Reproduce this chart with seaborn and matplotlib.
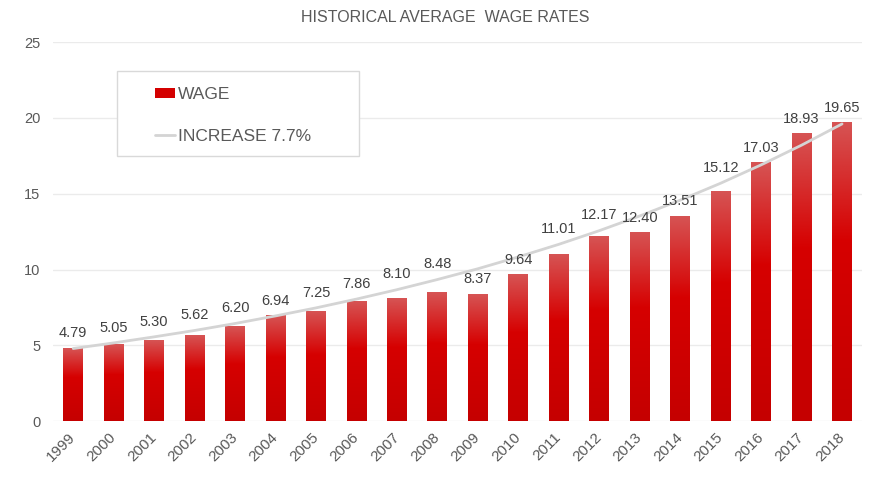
import numpy as np
import pandas as pd
import seaborn as sns
import matplotlib.pyplot as plt
from matplotlib.colors import LinearSegmentedColormap
from matplotlib.patches import Patch, Rectangle
from matplotlib.lines import Line2D

years = [str(y) for y in range(1999, 2019)]
wage = [4.79, 5.05, 5.30, 5.62, 6.20, 6.94, 7.25, 7.86, 8.10, 8.48,
        8.37, 9.64, 11.01, 12.17, 12.40, 13.51, 15.12, 17.03, 18.93, 19.65]
# trend line values (7.7% growth curve)
increase = [4.79, 5.16, 5.56, 5.98, 6.44, 6.94, 7.47, 8.05, 8.67, 9.34,
            10.05, 10.83, 11.66, 12.56, 13.53, 14.57, 15.69, 16.90, 18.20, 19.60]

sns.set_theme(style="white")
plt.rcParams['font.family'] = ['Liberation Sans', 'DejaVu Sans']

fig = plt.figure(figsize=(8.74, 4.83), dpi=100)
ax = fig.add_axes([0.0606, 0.128, 0.926, 0.785])

df = pd.DataFrame({"year": years, "wage": wage, "increase": increase})
sns.barplot(data=df, x="year", y="wage", color="#d40000", width=0.49,
            ax=ax, zorder=2)

# vertical gradient on each bar
cmap = LinearSegmentedColormap.from_list(
    "bar", [(0, "#c50000"), (0.6, "#d60000"), (1, "#d65454")])
grad = np.linspace(0, 1, 256).reshape(-1, 1)
for p in ax.patches:
    x0, w, h = p.get_x(), p.get_width(), p.get_height()
    ax.imshow(grad, extent=[x0, x0 + w, 0, h], origin="lower", aspect="auto",
              cmap=cmap, zorder=2.1)
    p.set_visible(False)

sns.lineplot(data=df, x="year", y="increase", color="#d4d4d4", linewidth=2,
             ax=ax, zorder=3)

# labels sit above the trend line unless the bar is well below it
for i, (v, t) in enumerate(zip(wage, increase)):
    base = v if t - v > 1 else max(v, t)
    ax.annotate(f"{v:.2f}", (i, base), xytext=(0, 6), textcoords="offset points",
                ha="center", va="bottom", fontsize=10.5, color="#404040", zorder=4)

ax.set_xlim(-0.5, len(years) - 0.5)
ax.set_ylim(0, 25)
ax.set_yticks(range(0, 26, 5))
ax.yaxis.grid(True, color="#ebebeb", linewidth=1)
ax.set_axisbelow(True)
for s in ax.spines.values():
    s.set_visible(False)
ax.set_xlabel("")
ax.set_ylabel("")
ax.tick_params(axis="y", labelsize=10.5, labelcolor="#595959", length=0, pad=9)
ax.tick_params(axis="x", labelsize=11, labelcolor="#595959", length=0, pad=10)
plt.setp(ax.get_xticklabels(), rotation=45, ha="right", va="center",
         rotation_mode="anchor")

fig.text(0.509, 0.963, "HISTORICAL AVERAGE  WAGE RATES", ha="center",
         va="center", fontsize=11.5, color="#595959")

# legend box drawn separately so the entries can sit centred inside it
box = Rectangle((117 / 874, 1 - 156 / 483), 242 / 874, 85 / 483,
                transform=fig.transFigure, facecolor="white",
                edgecolor="#d9d9d9", linewidth=1, clip_on=False, zorder=5)
ax.add_patch(box)

handles = [Patch(facecolor="#d40000", edgecolor="none"),
           Line2D([], [], color="#d4d4d4", linewidth=2)]
leg = ax.legend(handles, ["WAGE", "INCREASE 7.7%"], loc="upper left",
                bbox_to_anchor=(155 / 874, 1 - 87 / 483),
                bbox_transform=fig.transFigure, borderaxespad=0,
                fontsize=12.5, labelcolor="#595959",
                handlelength=1.15, handleheight=0.5, handletextpad=0.15,
                labelspacing=1.54, borderpad=0, frameon=False)
leg.set_zorder(6)

fig.savefig("out.png", dpi=100)
